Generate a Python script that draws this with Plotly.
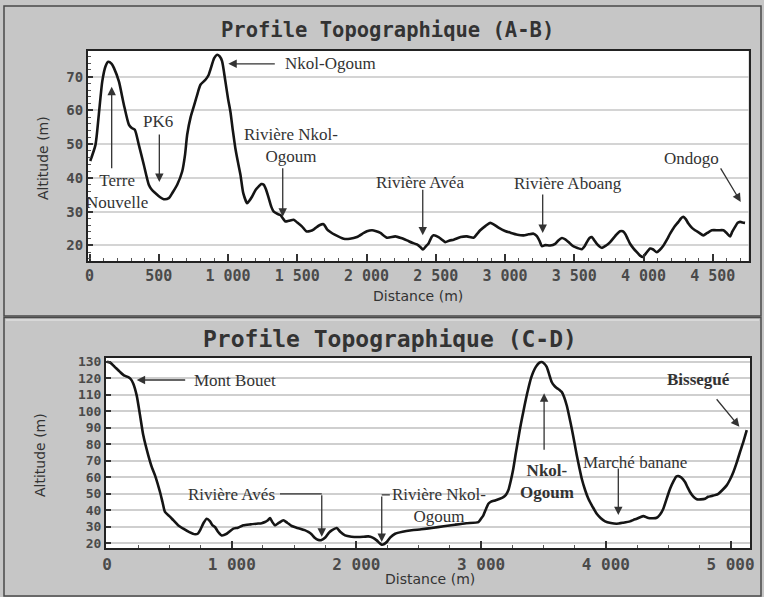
import plotly.graph_objects as go

# ---------------- Data: profile A-B ----------------
ab_distance = [5, 43, 67, 92, 115, 135, 160, 176, 212, 248, 284, 305, 327, 356, 392, 428, 450, 476,
               510, 536, 572, 600, 633, 669, 690, 705, 730, 753, 780, 801, 837, 860, 873, 900, 921,
               940, 957, 981, 1000, 1017, 1035, 1053, 1070, 1090, 1110, 1138, 1155, 1174, 1200, 1222,
               1240, 1258, 1275, 1294, 1312, 1330, 1360, 1378, 1400, 1414, 1440, 1474, 1500, 1535,
               1565, 1594, 1620, 1660, 1690, 1715, 1739, 1770, 1835, 1880, 1931, 1980, 2003, 2040,
               2070, 2100, 2148, 2208, 2250, 2292, 2330, 2364, 2390, 2408, 2430, 2448, 2470, 2484,
               2520, 2545, 2568, 2600, 2629, 2680, 2725, 2773, 2800, 2821, 2860, 2893, 2920, 2953,
               3000, 3038, 3090, 3134, 3170, 3206, 3230, 3250, 3266, 3290, 3326, 3362, 3385, 3411,
               3435, 3459, 3485, 3507, 3555, 3575, 3591, 3610, 3627, 3645, 3663, 3699, 3730, 3759,
               3795, 3831, 3850, 3867, 3885, 3903, 3930, 3952, 3975, 3995, 4020, 4048, 4070, 4096,
               4120, 4144, 4170, 4192, 4222, 4252, 4270, 4288, 4305, 4324, 4350, 4372, 4400, 4432,
               4460, 4493, 4540, 4577, 4600, 4625, 4640, 4661, 4680, 4697, 4715, 4733]
ab_altitude = [45, 49.8, 58.7, 68.6, 73, 74.4, 73.8, 72.6, 68.6, 61.7, 55.8, 54.8, 54.3, 49.8, 43.9,
               38, 36.5, 35.5, 34.3, 33.7, 34, 35.7, 38, 41.9, 47, 52.8, 58, 61.2, 65, 67.6, 69.1,
               70.5, 72.1, 75.5, 76.5, 76, 74.6, 68.6, 63.5, 59.7, 54, 48.8, 45, 40.9, 35.5, 32.5,
               33.3, 34.5, 36.5, 37.5, 38.2, 38, 36.5, 34, 31.5, 30, 29.3, 29, 27.8, 27.1, 27.3,
               27.6, 26.8, 25.6, 24.2, 24.3, 24.8, 26, 26.3, 24.8, 24, 23.2, 22, 22, 22.5, 23.7,
               24.2, 24.5, 24.2, 23.7, 22.3, 22.7, 22.2, 21.5, 20.8, 20.3, 19.5, 18.8, 19.8, 20.6,
               22.5, 23, 22.5, 21.7, 21, 21.5, 21.7, 22.5, 22.7, 22.3, 23.5, 24.5, 25.8, 26.7,
               26.2, 25.3, 24.3, 23.8, 23.2, 23, 23.3, 23.5, 22.8, 21.3, 19.8, 20.1, 20, 20.5,
               21.5, 22.2, 21.8, 21, 20, 19.5, 18.9, 19.8, 21, 22.2, 22.5, 21.5, 20.5, 19.3, 20,
               21, 22.8, 24.2, 24.2, 23.5, 22, 20.5, 19, 18, 17, 16.6, 17.8, 19.1, 18.8, 18, 18.8,
               20, 21.8, 23.5, 25.5, 27, 28, 28.5, 27.8, 26.5, 25.2, 24.5, 23.8, 23, 23.7, 24.5,
               24.5, 24.5, 23.7, 22.7, 24, 25.5, 26.7, 27, 26.8, 26.7]

# ---------------- Data: profile C-D ----------------
cd_distance = [0, 24, 60, 104, 140, 171, 190, 211, 238, 265, 291, 331, 360, 385, 425, 445, 465, 500,
               532, 570, 612, 660, 706, 730, 746, 775, 800, 825, 845, 866, 890, 920, 960, 1013, 1050,
               1093, 1150, 1200, 1240, 1267, 1290, 1307, 1325, 1347, 1380, 1414, 1445, 1481, 1520,
               1548, 1585, 1614, 1640, 1668, 1690, 1720, 1750, 1780, 1802, 1842, 1870, 1909, 1960,
               2015, 2060, 2095, 2130, 2163, 2185, 2203, 2223, 2243, 2270, 2310, 2370, 2443, 2520,
               2604, 2700, 2791, 2880, 2978, 3000, 3018, 3040, 3058, 3080, 3112, 3150, 3178, 3200,
               3218, 3238, 3258, 3278, 3298, 3318, 3338, 3358, 3378, 3400, 3418, 3440, 3465, 3486,
               3506, 3526, 3545, 3566, 3586, 3606, 3630, 3646, 3666, 3686, 3706, 3727, 3747, 3767,
               3787, 3807, 3835, 3860, 3895, 3927, 3960, 3994, 4040, 4087, 4140, 4194, 4222, 4248,
               4275, 4301, 4341, 4380, 4408, 4435, 4461, 4490, 4515, 4545, 4565, 4581, 4605, 4635,
               4655, 4675, 4700, 4729, 4760, 4796, 4820, 4849, 4875, 4902, 4935, 4969, 4995, 5023,
               5050, 5076, 5105, 5130]
cd_altitude = [130, 129.5, 127, 123.8, 121.5, 120.7, 119.5, 116.7, 109.6, 97.5, 85.4, 73.3, 66, 61.2,
               51.1, 45, 39, 36.5, 34, 31, 28.9, 26.8, 25.5, 26, 27.9, 32.5, 34.9, 33.5, 31, 29.9,
               27, 24.8, 25.8, 28.9, 29.5, 30.9, 31.5, 31.9, 32.2, 32.9, 34, 35.3, 33, 30.9, 32.5,
               34, 32.5, 30.5, 29.5, 28.9, 28, 26.9, 25.5, 23.2, 22.2, 22, 23.5, 26.5, 27.9, 29.3,
               27, 24.8, 24, 23.8, 24, 24.2, 23.5, 21.8, 20.2, 19.2, 19.6, 20.8, 23.5, 25.8, 27,
               27.9, 28.5, 29.3, 30.3, 31.3, 32.2, 32.9, 35, 37, 41, 44, 45.3, 46, 47, 48, 49.5,
               52.1, 58, 65.2, 74.5, 83.4, 92, 99.5, 107, 113.6, 120, 123.8, 127, 129.3, 129.8,
               128.8, 126.8, 122.5, 117.7, 115.5, 114.1, 112.8, 111.7, 108.5, 103.6, 97, 89.4,
               81.5, 73.3, 66, 59.1, 52, 47, 42, 37.9, 35.2, 33.3, 32.3, 31.9, 32.5, 33.3, 34.2,
               34.9, 35.8, 36.5, 35.3, 35.2, 35.5, 37.5, 41, 47.5, 53.1, 58, 60.5, 60.8, 59.8,
               57.1, 54, 51.1, 48.5, 46.7, 46.6, 47, 48.2, 48.7, 49.2, 50, 52.3, 55.1, 58.5, 63.2,
               69, 75.3, 82, 88.5]

# ---------------- Ticks ----------------
ab_xtick_vals = [0, 500, 1000, 1500, 2000, 2500, 3000, 3500, 4000, 4500]
ab_xtick_text = ["0", "500", "1 000", "1 500", "2 000", "2 500", "3 000", "3 500", "4 000", "4 500"]
ab_ytick_vals = [20, 30, 40, 50, 60, 70]
cd_xtick_vals = [0, 1000, 2000, 3000, 4000, 5000]
cd_xtick_text = ["0", "1 000", "2 000", "3 000", "4 000", "5 000"]
cd_ytick_vals = [20, 30, 40, 50, 60, 70, 80, 90, 100, 110, 120, 130]

W, H = 764, 597
def px(v):
    return v / W
def py(v):
    return 1 - v / H

LINE = "#151515"
TXT = "#333333"
SERIF = "Liberation Serif, Times New Roman, serif"
MONO = "DejaVu Sans Mono, monospace"
SANS = "DejaVu Sans, Verdana, sans-serif"

fig = go.Figure()
fig.add_trace(go.Scatter(x=ab_distance, y=ab_altitude, mode="lines", xaxis="x", yaxis="y",
                         line=dict(color=LINE, width=2.6, shape="spline", smoothing=0.6),
                         showlegend=False, hoverinfo="skip"))
fig.add_trace(go.Scatter(x=cd_distance, y=cd_altitude, mode="lines", xaxis="x2", yaxis="y2",
                         line=dict(color=LINE, width=2.6, shape="spline", smoothing=0.6),
                         showlegend=False, hoverinfo="skip"))

def xax(domain, rng, vals, text, minor_dtick, anchor, fsize):
    return dict(domain=domain, range=rng, anchor=anchor, tickmode="array", tickvals=vals,
                ticktext=text, ticks="inside", ticklen=7, tickwidth=1.5, tickcolor="#333",
                showline=True, linecolor="#222", linewidth=2, mirror=True, showgrid=False,
                zeroline=False, automargin=False,
                tickfont=dict(family=MONO, size=fsize, color="#4a4a4a", weight="bold"),
                minor=dict(dtick=minor_dtick, tick0=0, ticks="inside", ticklen=3, tickcolor="#555",
                           tickwidth=1, showgrid=False),
                fixedrange=True)

def yax(domain, rng, vals, minor_dtick, anchor, fsize, gridcolor, gridwidth):
    return dict(domain=domain, range=rng, anchor=anchor, tickmode="array", tickvals=vals,
                ticks="inside", ticklen=5, tickwidth=1.5, tickcolor="#333",
                showline=True, linecolor="#222", linewidth=2, mirror=True, showgrid=True,
                gridcolor=gridcolor, gridwidth=gridwidth, zeroline=False, automargin=False,
                tickfont=dict(family=MONO, size=fsize, color="#4a4a4a", weight="bold"),
                minor=dict(dtick=minor_dtick, tick0=0, ticks="inside", ticklen=3, tickcolor="#555",
                           tickwidth=1, showgrid=False),
                fixedrange=True)

fig.update_layout(
    width=W, height=H, margin=dict(l=0, r=0, t=0, b=0, pad=0),
    paper_bgcolor="#c6c6c6", plot_bgcolor="#ffffff",
    xaxis=xax([px(88), px(748.5)], [-11, 4758], ab_xtick_vals, ab_xtick_text, 100, "y", 15),
    yaxis=yax([py(261), py(51)], [15.4, 77.6], ab_ytick_vals, 2, "x", 14, "#d4d4d4", 2),
    xaxis2=xax([px(106), px(750)], [-8, 5156], cd_xtick_vals, cd_xtick_text, 250, "y2", 16),
    yaxis2=yax([py(548.3), py(357.7)], [17, 132.4], cd_ytick_vals, 10, "x2", 13, "#cfcfcf", 1.5),
)

# panel frames
shapes = [
    dict(type="rect", xref="paper", yref="paper", x0=px(4), x1=px(761), y0=py(316), y1=py(6),
         line=dict(color="#4a4a4a", width=1.5), fillcolor="rgba(0,0,0,0)", layer="above"),
    dict(type="rect", xref="paper", yref="paper", x0=px(4), x1=px(761), y0=py(596), y1=py(317.5),
         line=dict(color="#4a4a4a", width=1.5), fillcolor="rgba(0,0,0,0)", layer="above"),
    dict(type="line", xref="paper", yref="paper", x0=px(6), x1=px(759), y0=py(320), y1=py(320),
         line=dict(color="#dedede", width=1.5)),
    # elbow connectors (C-D)
    dict(type="line", xref="x2", yref="y2", x0=1387, x1=1722, y0=49.9, y1=49.9,
         line=dict(color="#333", width=1.3)),
    dict(type="line", xref="x2", yref="y2", x0=2203, x1=2268, y0=49.3, y1=49.3,
         line=dict(color="#333", width=1.3)),
]
fig.update_layout(shapes=shapes)

ann = []

def title(text, x, y, size):
    ann.append(dict(text=text, xref="paper", yref="paper", x=px(x), y=py(y), showarrow=False,
                    font=dict(family=MONO, size=size, color="#333", weight="bold"),
                    xanchor="center", yanchor="middle"))

def axtitle(text, x, y, angle=0):
    ann.append(dict(text=text, xref="paper", yref="paper", x=px(x), y=py(y), showarrow=False,
                    textangle=angle, font=dict(family=SANS, size=14, color="#333"),
                    xanchor="center", yanchor="middle"))

def label(text, xref, yref, x, y, bold=False, xanchor="center"):
    ann.append(dict(text=text, xref=xref, yref=yref, x=x, y=y, showarrow=False,
                    xanchor=xanchor, yanchor="middle",
                    font=dict(family=SERIF, size=17, color=TXT, weight="bold" if bold else "normal")))

def arrow(xref, yref, x, y, ax, ay):
    ann.append(dict(text="", xref=xref, yref=yref, x=x, y=y, ax=ax, ay=ay, showarrow=True,
                    arrowhead=2, arrowsize=1.3, arrowwidth=1.3, arrowcolor="#333", standoff=0))

title("Profile Topographique (A-B)", 387, 30, 20.5)
title("Profile Topographique (C-D)", 390, 339, 23)
axtitle("Distance (m)", 418, 296)
axtitle("Altitude (m)", 43, 158, -90)
axtitle("Distance (m)", 430, 579)
axtitle("Altitude (m)", 40, 455, -90)

# A-B labels
label("Nkol-Ogoum", "x", "y", 1397, 73.8, xanchor="left")
arrow("x", "y", 1002, 73.8, 48, 0)
label("PK6", "x", "y", 495, 56.6)
arrow("x", "y", 504, 38.8, 0, -49)
label("Terre<br>Nouvelle", "x", "y", 199, 36.0)
arrow("x", "y", 160, 67.0, 0, 83)
label("Rivière Nkol-<br>Ogoum", "x", "y", 1455, 49.7)
arrow("x", "y", 1395, 28.5, 0, -50)
label("Rivière Avéa", "x", "y", 2386, 38.7)
arrow("x", "y", 2406, 23.0, 0, -47)
label("Rivière Aboang", "x", "y", 3454, 38.4)
arrow("x", "y", 3272, 23.7, 0, -40)
label("Ondogo", "x", "y", 4350, 45.9)
arrow("x", "y", 4702, 32.9, -21, -35)

# C-D labels
label("Mont Bouet", "x2", "y2", 682, 118.3, xanchor="left")
arrow("x2", "y2", 238, 118.9, 50, 0)
label("Rivière Avés", "x2", "y2", 995, 49.3)
arrow("x2", "y2", 1722, 24.0, 0, -43)
label("Rivière Nkol-<br>Ogoum", "x2", "y2", 2660, 42.9)
arrow("x2", "y2", 2203, 20.8, 0, -47)
label("Nkol-<br>Ogoum", "x2", "y2", 3529, 57.7, bold=True)
arrow("x2", "y2", 3505, 110.9, 0, 58)
label("Marché banane", "x2", "y2", 4235, 69.2)
arrow("x2", "y2", 4100, 37.1, 0, -48)
label("Bissegué", "x2", "y2", 4740, 119.0, bold=True)
arrow("x2", "y2", 5071, 90.6, -24, -29)

fig.update_layout(annotations=ann)

fig.write_html("out.html", config={"displayModeBar": False},
               post_script="document.body.style.margin='0';document.body.style.overflow='hidden';")
